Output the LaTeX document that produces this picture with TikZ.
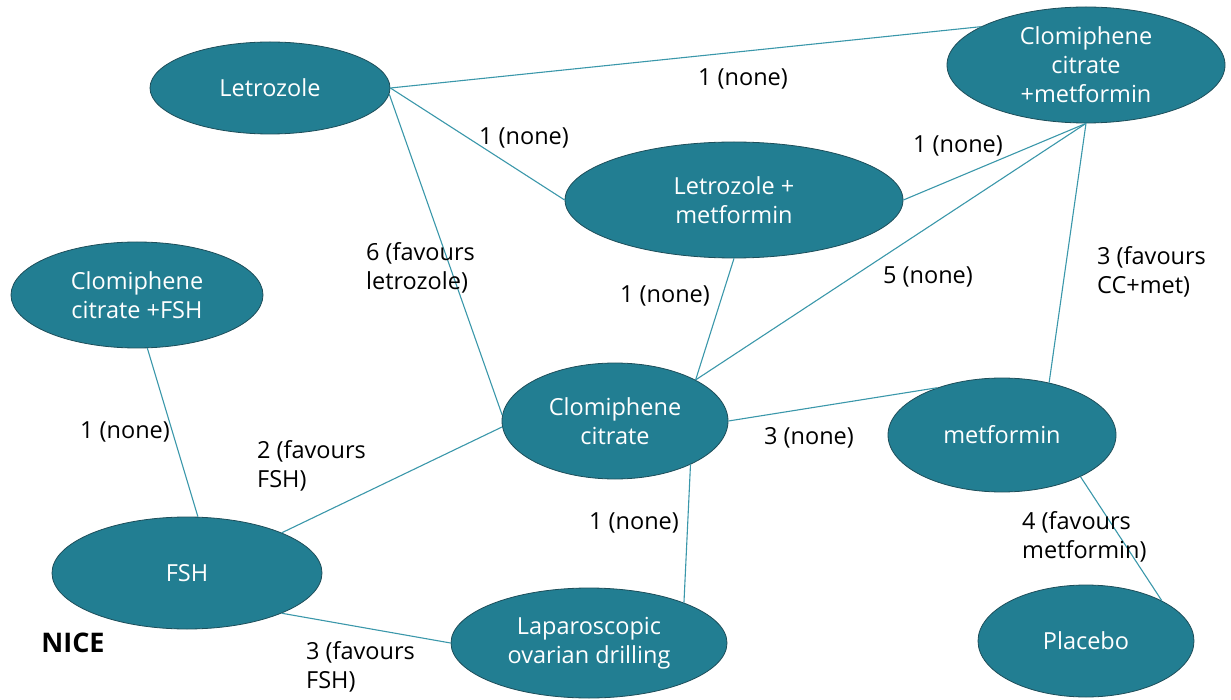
\documentclass[tikz,border=0pt]{standalone}
\usepackage{fontspec}
\setmainfont{Open Sans}
\usetikzlibrary{shapes.geometric}
\definecolor{nodefill}{HTML}{227E92}
\definecolor{nodeedge}{HTML}{1D4E5A}
\definecolor{edgecol}{HTML}{3A97AA}
\begin{document}
\begin{tikzpicture}[x=1pt,y=-1pt,
  tnode/.style={ellipse, fill=nodefill, draw=nodeedge, line width=0.8pt, inner sep=0pt,
    text=white, align=center, font=\fontsize{23.5}{29}\selectfont},
  link/.style={draw=edgecol, line width=1.1pt},
  lbl/.style={text=black, align=left, font=\fontsize{23.5}{29}\selectfont, inner sep=0pt}]
\useasboundingbox (0,0) rectangle (1231,700);
% nodes
\node[tnode, minimum width=240pt, minimum height=92pt] (L) at (270,88) {Letrozole};
\node[tnode, minimum width=278pt, minimum height=116pt] (CCM) at (1086,65) {Clomiphene\\citrate\\+metformin};
\node[tnode, minimum width=338pt, minimum height=116pt] (LM) at (734,200) {Letrozole +\\metformin};
\node[tnode, minimum width=252pt, minimum height=106pt] (CCF) at (137,295) {Clomiphene\\citrate +FSH};
\node[tnode, minimum width=226pt, minimum height=116pt] (CC) at (615,421) {Clomiphene\\citrate};
\node[tnode, minimum width=228pt, minimum height=114pt] (M) at (1002,435) {metformin};
\node[tnode, minimum width=270pt, minimum height=112pt] (F) at (187,573) {FSH};
\node[tnode, minimum width=276pt, minimum height=110pt] (LOD) at (589,643) {Laparoscopic\\ovarian drilling};
\node[tnode, minimum width=216pt, minimum height=112pt] (P) at (1086,641) {Placebo};
% edges
\draw[link] (L.east) -- (CCM.160);
\draw[link] (L.east) -- (LM.west);
\draw[link] (L.-3) -- (CC.177);
\draw[link] (LM.east) -- (CCM.south);
\draw[link] (LM.south) -- (CC.27);
\draw[link] (CCM.south) -- (CC.27);
\draw[link] (CCM.south) -- (M.48);
\draw[link] (CC.east) -- (M.144);
\draw[link] (CC.-30) -- (LOD.23);
\draw[link] (CC.183) -- (F.23);
\draw[link] (CCF.-79) -- (F.79);
\draw[link] (F.-23) -- (LOD.180);
\draw[link] (M.-28) -- (P.28);
% labels
\node[lbl] (l1) at (743,79) {1 (none)};
\node[lbl] (l2) at (524,138) {1 (none)};
\node[lbl] (l3) at (958,146) {1 (none)};
\node[lbl, anchor=west] (l4) at (366,268) {6 (favours\\letrozole)};
\node[lbl] (l5) at (665,296) {1 (none)};
\node[lbl] (l6) at (928,277) {5 (none)};
\node[lbl, anchor=west] (l7) at (1097,272) {3 (favours\\CC+met)};
\node[lbl] (l8) at (125,432) {1 (none)};
\node[lbl, anchor=west] (l9) at (257,466) {2 (favours\\FSH)};
\node[lbl] (l10) at (809,438) {3 (none)};
\node[lbl] (l11) at (634,523) {1 (none)};
\node[lbl, anchor=west] (l12) at (1022,537) {4 (favours\\metformin)};
\node[lbl, anchor=west] (l13) at (306,667) {3 (favours\\FSH)};
\node[lbl, font=\fontsize{27}{30}\selectfont\bfseries] (nice) at (73,643) {NICE};
\end{tikzpicture}
\end{document}
